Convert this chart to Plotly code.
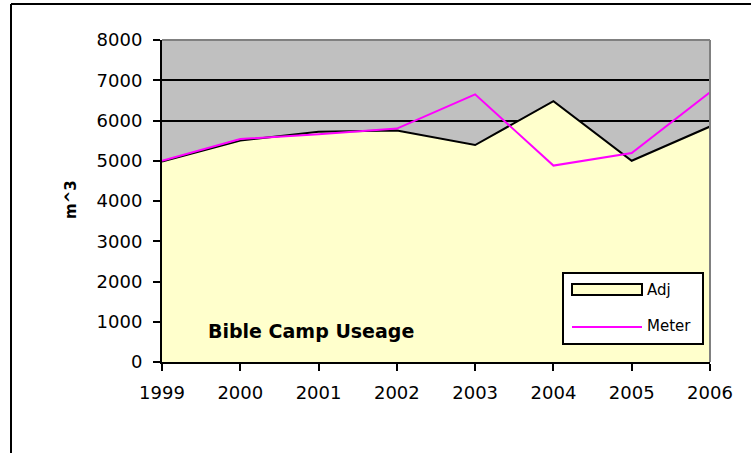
import plotly.graph_objects as go

# data
years = [1999, 2000, 2001, 2002, 2003, 2004, 2005, 2006]
adj = [4980, 5500, 5720, 5750, 5390, 6480, 5000, 5850]
meter = [5000, 5540, 5660, 5800, 6650, 4880, 5190, 6700]

y_ticks = [0, 1000, 2000, 3000, 4000, 5000, 6000, 7000, 8000]

W, H = 751, 453
L, R, T, B = 162, 710, 40, 362  # plot area in pixels


def px(x):
    # pixel x -> paper x
    return (x - L) / (R - L)


def py(y):
    # pixel y -> paper y
    return (B - y) / (B - T)


fig = go.Figure()

fig.add_trace(go.Scatter(
    x=years, y=adj, name='Adj', mode='lines',
    fill='tozeroy', fillcolor='#FFFFCC',
    line=dict(color='black', width=2)
))
fig.add_trace(go.Scatter(
    x=years, y=meter, name='Meter', mode='lines',
    line=dict(color='#FF00FF', width=2)
))

font = 'DejaVu Sans, Verdana, sans-serif'

fig.update_layout(
    width=W, height=H,
    margin=dict(l=L, r=W - R, t=T, b=H - B),
    paper_bgcolor='white',
    plot_bgcolor='#C0C0C0',
    showlegend=False,
    font=dict(family=font, size=18, color='black'),
    xaxis=dict(
        range=[1999, 2006], tickmode='array', tickvals=years,
        ticks='outside', ticklen=7, tickwidth=2, tickcolor='black',
        showgrid=False, showline=True, linecolor='black', linewidth=2,
        zeroline=False, ticklabelstandoff=6
    ),
    yaxis=dict(
        range=[0, 8000], tickmode='array', tickvals=y_ticks,
        ticks='outside', ticklen=7, tickwidth=2, tickcolor='black',
        showgrid=True, gridcolor='black', gridwidth=2,
        showline=True, linecolor='black', linewidth=2,
        zeroline=False, ticklabelstandoff=7
    ),
)

shapes = [
    # plot area top/right border
    dict(type='line', xref='paper', yref='paper', x0=0, x1=1, y0=1, y1=1,
         line=dict(color='#808080', width=2)),
    dict(type='line', xref='paper', yref='paper', x0=1, x1=1, y0=0, y1=1,
         line=dict(color='#808080', width=2)),
    # outer chart frame (left and top visible)
    dict(type='line', xref='paper', yref='paper', x0=px(11), x1=px(11),
         y0=py(470), y1=py(4), line=dict(color='black', width=2)),
    dict(type='line', xref='paper', yref='paper', x0=px(11), x1=px(770),
         y0=py(4), y1=py(4), line=dict(color='black', width=2)),
    # legend box
    dict(type='rect', xref='paper', yref='paper', x0=px(563), x1=px(703),
         y0=py(344), y1=py(273), fillcolor='white',
         line=dict(color='black', width=2)),
    dict(type='rect', xref='paper', yref='paper', x0=px(572), x1=px(642),
         y0=py(295), y1=py(284), fillcolor='#FFFFCC',
         line=dict(color='black', width=2)),
    dict(type='line', xref='paper', yref='paper', x0=px(572), x1=px(642),
         y0=py(327), y1=py(327), line=dict(color='#FF00FF', width=2)),
]
fig.update_layout(shapes=shapes)

fig.add_annotation(x=px(645), y=py(290), xref='paper', yref='paper',
                   text='Adj', showarrow=False, xanchor='left', yanchor='middle',
                   font=dict(size=15))
fig.add_annotation(x=px(645), y=py(326), xref='paper', yref='paper',
                   text='Meter', showarrow=False, xanchor='left', yanchor='middle',
                   font=dict(size=15))
fig.add_annotation(x=px(311), y=py(331), xref='paper', yref='paper',
                   text='<b>Bible Camp Useage</b>', showarrow=False,
                   xanchor='center', yanchor='middle', font=dict(size=19))
fig.add_annotation(x=px(71), y=py(200), xref='paper', yref='paper',
                   text='<b>m^3</b>', showarrow=False, textangle=-90,
                   xanchor='center', yanchor='middle', font=dict(size=15))

# drop the default page margin so the figure fills the window
fig.write_html("out.html", config={'displayModeBar': False},
               post_script="document.body.style.margin='0';")
